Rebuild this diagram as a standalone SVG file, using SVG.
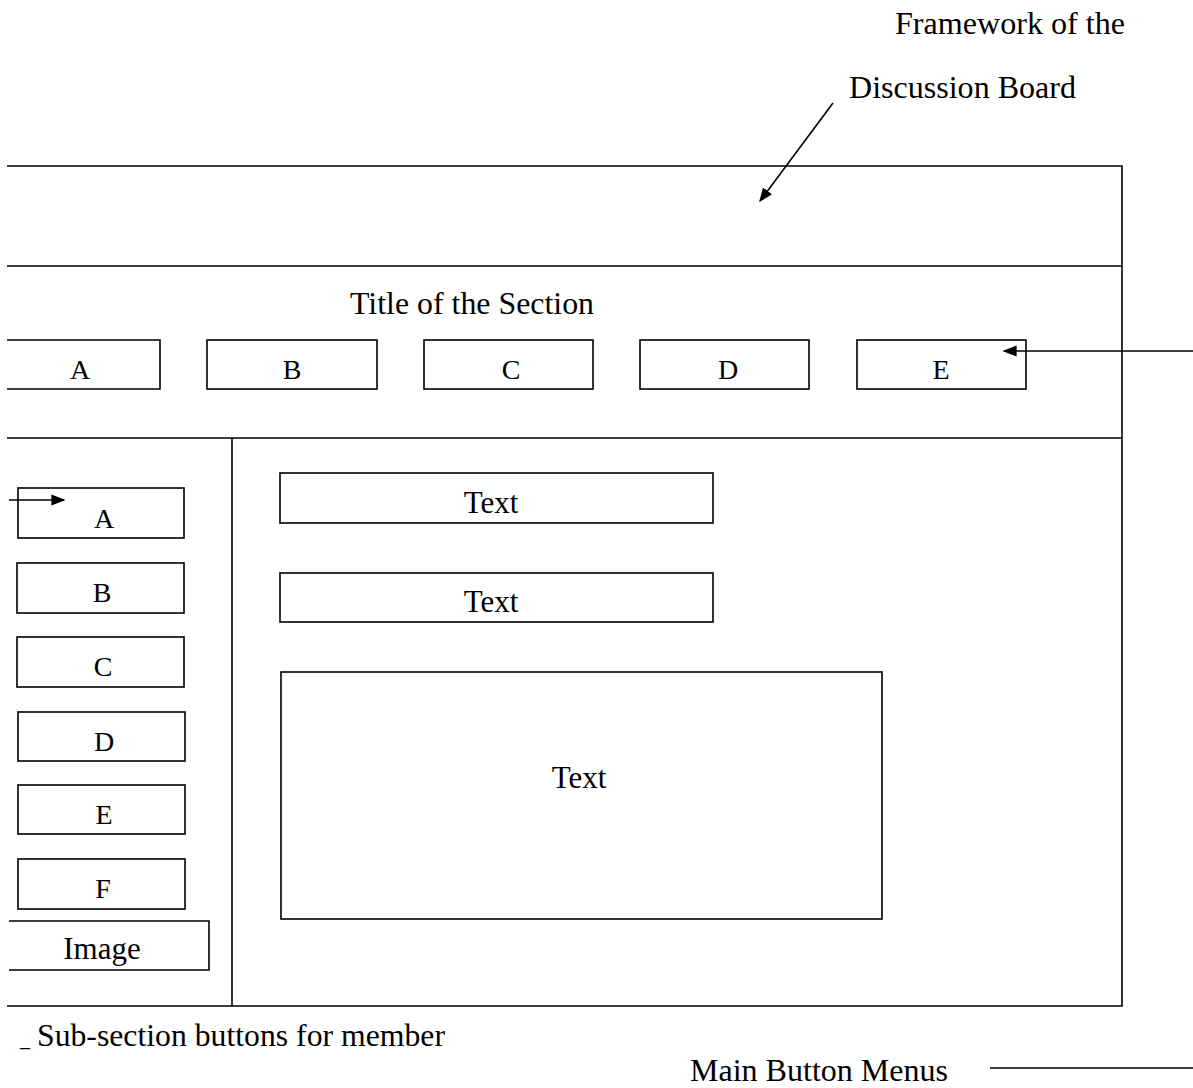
<svg xmlns="http://www.w3.org/2000/svg" width="1193" height="1088" viewBox="0 0 1193 1088">
  <style>
    .box { fill: none; stroke: #000; stroke-width: 1.6; }
    .ln { fill: none; stroke: #000; stroke-width: 1.6; }
    .lbl { font-family: "Liberation Serif", "Times New Roman", serif; fill: #000; }
    .big { font-size: 31.5px; }
    .btn { font-size: 28px; text-anchor: middle; }
    .txt { font-size: 31px; text-anchor: middle; }
  </style>
  <defs>
    <marker id="arrowL" viewBox="0 0 10 10" refX="9" refY="5" markerWidth="14" markerHeight="14" markerUnits="userSpaceOnUse" orient="auto">
      <path d="M0,1 L10,5 L0,9 z" fill="#000"/>
    </marker>
  </defs>
  <rect width="1193" height="1088" fill="#fff"/>

  <!-- page frame -->
  <g id="frame">
    <path class="ln" d="M7,166 H1122 V1006 H7"/>
    <path class="ln" d="M7,266 H1122"/>
    <path class="ln" d="M7,438 H1122"/>
    <path class="ln" d="M232,438 V1006"/>
  </g>

  <!-- headings -->
  <g id="heading">
    <text class="lbl big" x="895" y="34" textLength="230" lengthAdjust="spacingAndGlyphs">Framework of the</text>
    <text class="lbl big" x="849" y="98" textLength="227" lengthAdjust="spacingAndGlyphs">Discussion Board</text>
  </g>
  <g id="section-title">
    <text class="lbl big" x="350" y="314" textLength="244" lengthAdjust="spacingAndGlyphs">Title of the Section</text>
  </g>

  <!-- main menu buttons -->
  <g id="menu-a"><path class="box" d="M7,340 H160 V389 H7"/><text class="lbl btn" x="80" y="379">A</text></g>
  <g id="menu-b"><rect class="box" x="207" y="340" width="170" height="49"/><text class="lbl btn" x="292" y="379">B</text></g>
  <g id="menu-c"><rect class="box" x="424" y="340" width="169" height="49"/><text class="lbl btn" x="511" y="379">C</text></g>
  <g id="menu-d"><rect class="box" x="640" y="340" width="169" height="49"/><text class="lbl btn" x="728" y="379">D</text></g>
  <g id="menu-e"><rect class="box" x="857" y="340" width="169" height="49"/><text class="lbl btn" x="941" y="379">E</text></g>

  <!-- sub-section buttons -->
  <g id="sub-a"><rect class="box" x="18" y="488" width="166" height="50"/><text class="lbl btn" x="104" y="528">A</text></g>
  <g id="sub-b"><rect class="box" x="17" y="563" width="167" height="50"/><text class="lbl btn" x="102" y="602">B</text></g>
  <g id="sub-c"><rect class="box" x="17" y="637" width="167" height="50"/><text class="lbl btn" x="103" y="676">C</text></g>
  <g id="sub-d"><rect class="box" x="18" y="712" width="167" height="49"/><text class="lbl btn" x="104" y="751">D</text></g>
  <g id="sub-e"><rect class="box" x="18" y="785" width="167" height="49"/><text class="lbl btn" x="104" y="824">E</text></g>
  <g id="sub-f"><rect class="box" x="18" y="859" width="167" height="50"/><text class="lbl btn" x="103" y="898">F</text></g>
  <g id="image"><path class="box" d="M9,921 H209 V970 H9"/><text class="lbl txt" x="102" y="959">Image</text></g>

  <!-- content areas -->
  <g id="text-1"><rect class="box" x="280" y="473" width="433" height="50"/><text class="lbl txt" x="491" y="513">Text</text></g>
  <g id="text-2"><rect class="box" x="280" y="573" width="433" height="49"/><text class="lbl txt" x="491" y="612">Text</text></g>
  <g id="text-3"><rect class="box" x="281" y="672" width="601" height="247"/><text class="lbl txt" x="579" y="788">Text</text></g>

  <!-- captions -->
  <g id="caption-sub">
    <text class="lbl" x="20" y="1046" style="font-size:20px">_</text>
    <text class="lbl big" x="37" y="1046" textLength="408" lengthAdjust="spacingAndGlyphs">Sub-section buttons for member</text>
  </g>
  <g id="caption-main">
    <text class="lbl big" x="690" y="1081" textLength="258" lengthAdjust="spacingAndGlyphs">Main Button Menus</text>
  </g>

  <!-- connectors -->
  <g id="connectors">
    <line class="ln" x1="833" y1="103" x2="760" y2="201" marker-end="url(#arrowL)"/>
    <line class="ln" x1="1193" y1="351" x2="1004" y2="351" marker-end="url(#arrowL)"/>
    <line class="ln" x1="9" y1="500" x2="64" y2="500" marker-end="url(#arrowL)"/>
    <line class="ln" x1="990" y1="1068" x2="1193" y2="1068"/>
  </g>
</svg>
